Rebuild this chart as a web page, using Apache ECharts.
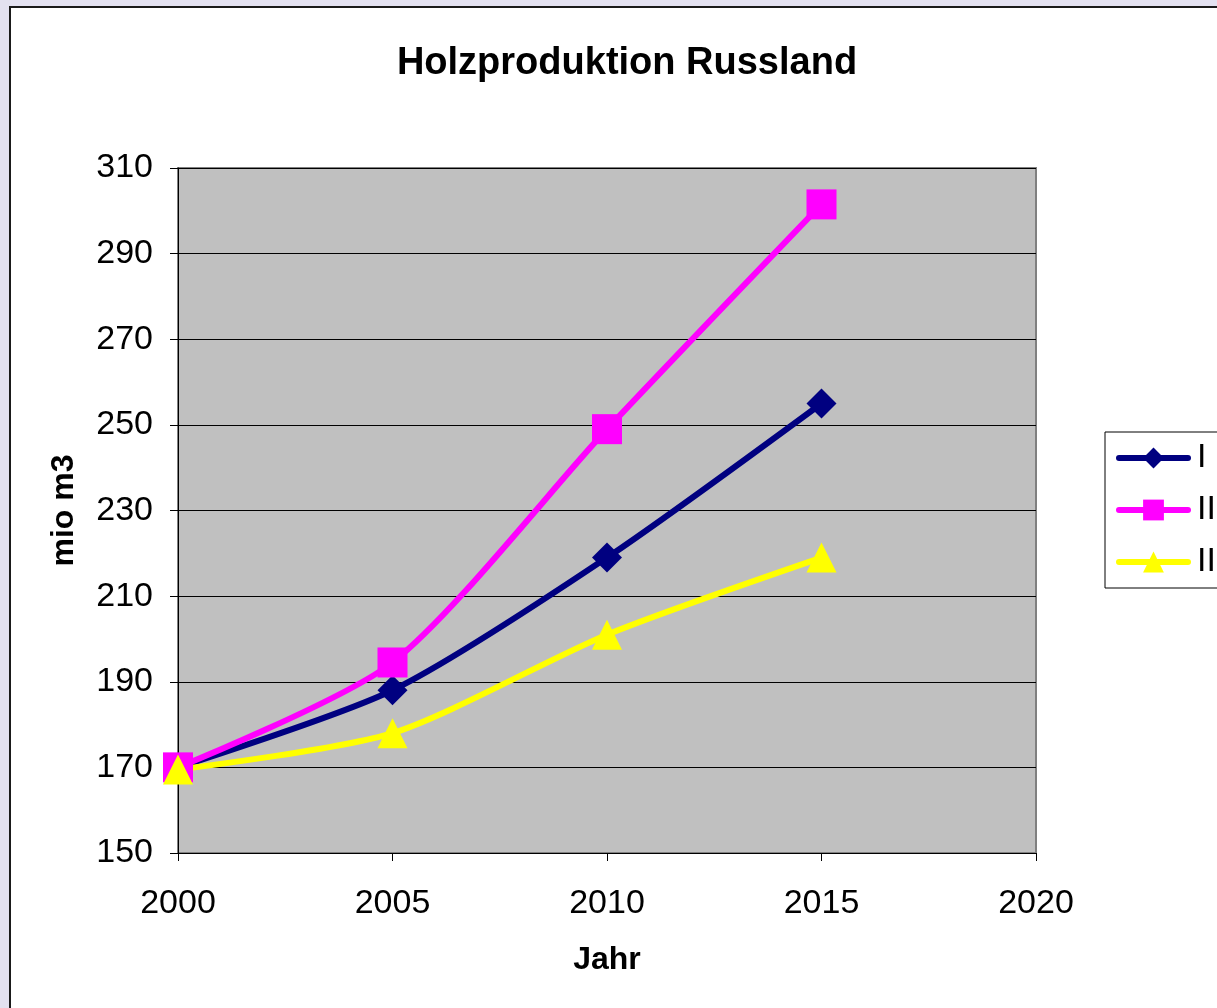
<!DOCTYPE html>
<html>
<head>
<meta charset="utf-8">
<script src="https://cdn.jsdelivr.net/npm/echarts@6/dist/echarts.min.js"></script>
<style>
  html, body { margin: 0; padding: 0; background: #e3e1f0; }
  #chart { width: 1217px; height: 1008px; }
</style>
</head>
<body>
<div id="chart"></div>
<script>
// data
var years = [2000, 2005, 2010, 2015];
var seriesNames = ['I', 'II', 'III'];
var valuesI = [170, 188, 219, 255];
var valuesII = [170, 194.5, 249, 301.5];
var valuesIII = [169.5, 178, 201, 219];
var xTicks = [2000, 2005, 2010, 2015, 2020];
var yTicks = [150, 170, 190, 210, 230, 250, 270, 290, 310];

var chart = echarts.init(document.getElementById('chart'));

function pairs(vals) {
    var out = [];
    for (var i = 0; i < vals.length; i++) {
        out.push([years[i], vals[i]]);
    }
    return out;
}

function makeSeries(name, vals, color, symbol) {
    return {
        name: name,
        type: 'line',
        data: pairs(vals),
        smooth: 0.25,
        symbol: symbol,
        symbolSize: 30,
        lineStyle: { color: color, width: 6 },
        itemStyle: { color: color },
        z: 3
    };
}

var option = {
    backgroundColor: '#e3e1f0',
    animation: false,
    textStyle: { fontFamily: 'Liberation Sans, Arial, sans-serif' },
    graphic: [{
        type: 'rect',
        z: -10,
        silent: true,
        shape: { x: 10, y: 7, width: 1240, height: 1040 },
        style: { fill: '#ffffff', stroke: '#1a1a1a', lineWidth: 2 }
    }],
    title: {
        text: 'Holzproduktion Russland',
        left: 622,
        textAlign: 'center',
        top: 40,
        textStyle: { fontSize: 38, fontWeight: 'bold', color: '#000' }
    },
    legend: {
        data: seriesNames,
        orient: 'vertical',
        left: 1105,
        top: 432,
        padding: [9, 20, 9, 11],
        itemWidth: 69,
        itemHeight: 26,
        itemGap: 18,
        backgroundColor: '#ffffff',
        borderColor: '#000',
        borderWidth: 1,
        lineStyle: { width: 6, cap: 'round' },
        textStyle: { fontSize: 34, lineHeight: 30, color: '#000', padding: [0, 0, 0, 4] }
    },
    grid: {
        left: 178,
        right: 181,
        top: 168,
        bottom: 155,
        show: true,
        backgroundColor: '#c0c0c0',
        borderColor: '#808080',
        borderWidth: 2
    },
    xAxis: {
        type: 'value',
        min: xTicks[0],
        max: xTicks[xTicks.length - 1],
        interval: 5,
        name: 'Jahr',
        nameLocation: 'middle',
        nameGap: 91,
        nameTextStyle: { fontSize: 32, fontWeight: 'bold', color: '#000' },
        axisLine: { lineStyle: { color: '#000', width: 1 } },
        axisTick: { lineStyle: { color: '#000' }, length: 8 },
        axisLabel: { fontSize: 34, color: '#000', margin: 34, formatter: function (v) { return String(v); } },
        splitLine: { show: false }
    },
    yAxis: {
        type: 'value',
        min: yTicks[0],
        max: yTicks[yTicks.length - 1],
        interval: 20,
        name: 'mio m3',
        nameLocation: 'middle',
        nameGap: 98,
        nameTextStyle: { fontSize: 32, fontWeight: 'bold', color: '#000' },
        axisLine: { show: true, lineStyle: { color: '#000', width: 1 } },
        axisTick: { show: true, lineStyle: { color: '#000' }, length: 8 },
        axisLabel: { fontSize: 34, color: '#000', margin: 25 },
        splitLine: { show: true, lineStyle: { color: '#000', width: 1 } }
    },
    series: [
        makeSeries(seriesNames[0], valuesI, '#000080', 'diamond'),
        makeSeries(seriesNames[1], valuesII, '#ff00ff', 'rect'),
        makeSeries(seriesNames[2], valuesIII, '#ffff00', 'triangle')
    ]
};

chart.setOption(option);
</script>
</body>
</html>
